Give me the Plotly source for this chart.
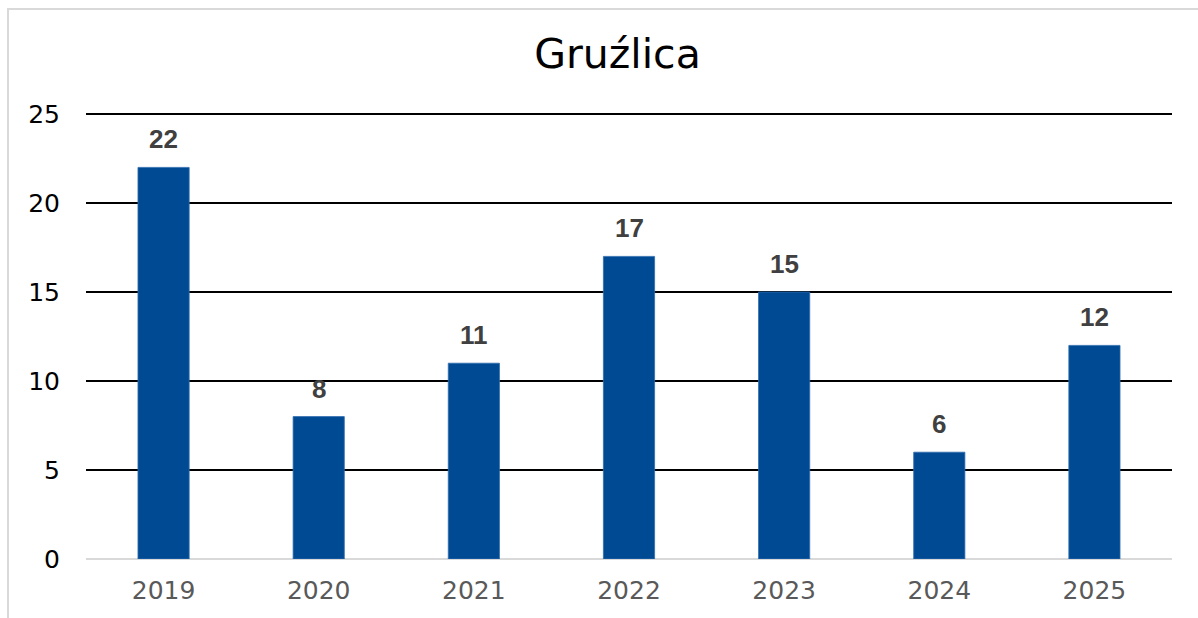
import plotly.graph_objects as go

years = ["2019", "2020", "2021", "2022", "2023", "2024", "2025"]
cases = [22, 8, 11, 17, 15, 6, 12]
y_ticks = [0, 5, 10, 15, 20, 25]
title_text = "Gruźlica"

W, H = 1198, 618
L, R, T, B = 86, 26, 110, 59
pw, ph = W - L - R, H - T - B
px_per_unit = 445 / 25.0
y_top = ph / px_per_unit

xpos = list(range(len(years)))

fig = go.Figure()
fig.add_trace(go.Bar(
    x=xpos, y=cases,
    marker=dict(color="#004A93", line=dict(color="#2E6DB0", width=0.8)),
    width=0.33, hovertext=years, hoverinfo="text+y",
))

for xp, v in zip(xpos, cases):
    fig.add_annotation(x=xp, y=v, xref="x", yref="y", text=f"<b>{v}</b>", showarrow=False,
                       yanchor="bottom", yshift=11,
                       font=dict(family="Liberation Sans, Arial", size=26, color="#404040"))

# outer light-gray border
fig.add_shape(type="rect", xref="paper", yref="paper",
              x0=(8 - L) / pw, x1=(1210 - L) / pw,
              y0=-0.3, y1=(H - B - 9) / ph,
              line=dict(color="#D9D9D9", width=2), fillcolor="rgba(0,0,0,0)", layer="below")

fig.update_layout(
    width=W, height=H,
    margin=dict(l=L, r=R, t=T, b=B),
    paper_bgcolor="white", plot_bgcolor="white",
    font=dict(family="DejaVu Sans", color="black"),
    title=dict(text=title_text, x=(617.5 - L) / pw, xref="paper", xanchor="center",
               y=1 - 54 / H, yanchor="middle",
               font=dict(size=41, color="black", family="DejaVu Sans")),
    showlegend=False,
    xaxis=dict(range=[-0.5, len(years) - 0.5], tickvals=xpos, ticktext=years,
               showgrid=False, showline=False, zeroline=False,
               tickfont=dict(size=25, color="#595959", family="DejaVu Sans"),
               ticks="outside", ticklen=9, tickcolor="rgba(0,0,0,0)"),
    yaxis=dict(range=[0, y_top], tickvals=y_ticks, showgrid=True, gridcolor="black",
               gridwidth=1.6, zeroline=True, zerolinecolor="#D9D9D9", zerolinewidth=2,
               showline=False, tickfont=dict(size=25, color="black", family="DejaVu Sans"),
               ticks="outside", ticklen=20, tickcolor="rgba(0,0,0,0)"),
)

fig.write_html("out.html", config={"displayModeBar": False},
               post_script="document.body.style.margin='0';")
